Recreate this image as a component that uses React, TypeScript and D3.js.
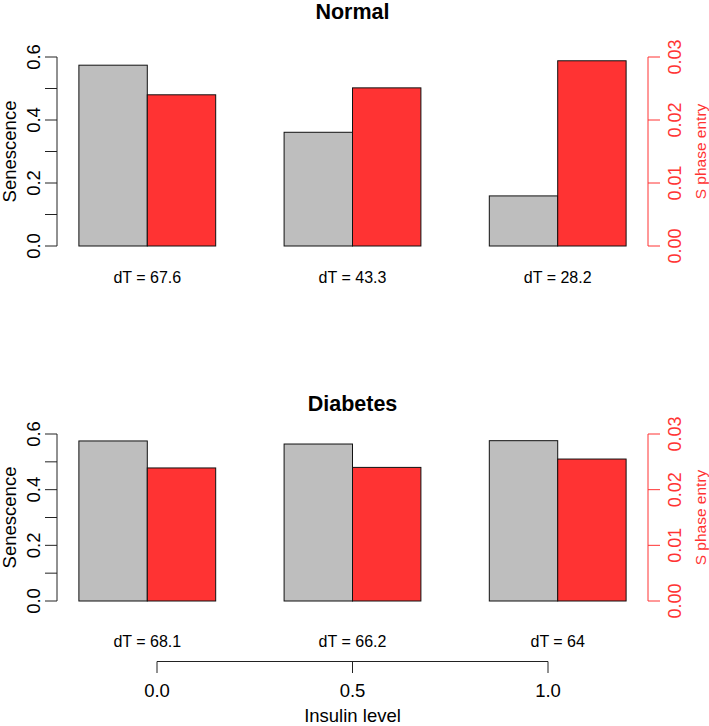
import React, { useEffect, useRef } from "react";
import * as d3 from "d3";

// insulin levels (one group of bars per level)
const insulinLevels = [0, 0.5, 1];

// Normal panel
const normalSenescence = [0.574, 0.361, 0.159];
const normalSPhase = [0.024, 0.0251, 0.0294];
const normalDT = ["67.6", "43.3", "28.2"];

// Diabetes panel
const diabetesSenescence = [0.575, 0.564, 0.576];
const diabetesSPhase = [0.0239, 0.024, 0.0255];
const diabetesDT = ["68.1", "66.2", "64"];

const senTicks = [0, 0.1, 0.2, 0.3, 0.4, 0.5, 0.6];
const senLabels = [0, 0.2, 0.4, 0.6];
const sTicks = [0, 0.01, 0.02, 0.03];

const RED = "#ff3333";
const GRAY = "#bebebe";
const FONT = "'Liberation Sans', Arial, Helvetica, sans-serif";

export default function App() {
  const ref = useRef<SVGSVGElement>(null);

  useEffect(() => {
    const width = 709;
    const height = 726;
    const svg = d3.select(ref.current);
    svg.selectAll("*").remove();
    svg.attr("width", width).attr("height", height);

    // barplot coordinates: bars of width 1, space 1 between groups
    const x = d3.scaleLinear().domain([0.68, 9.32]).range([57, 648]);

    const panels = [
      {
        title: "Normal",
        sen: normalSenescence,
        sph: normalSPhase,
        dt: normalDT,
        y0: 246,
        y1: 57,
        titleY: 18.5,
        dtY: 282.5,
      },
      {
        title: "Diabetes",
        sen: diabetesSenescence,
        sph: diabetesSPhase,
        dt: diabetesDT,
        y0: 601,
        y1: 434,
        titleY: 410.5,
        dtY: 647,
      },
    ];

    panels.forEach((p) => {
      const y = d3.scaleLinear().domain([0, 0.6]).range([p.y0, p.y1]);
      const yR = d3.scaleLinear().domain([0, 0.03]).range([p.y0, p.y1]);
      const g = svg.append("g");

      // title
      g.append("text")
        .attr("x", (x(0.68) + x(9.32)) / 2)
        .attr("y", p.titleY)
        .attr("text-anchor", "middle")
        .attr("font-family", FONT)
        .attr("font-weight", "bold")
        .attr("font-size", 21.5)
        .text(p.title);

      // bars
      const bars = insulinLevels.map((lvl, i) => ({
        i,
        left: 1 + 3 * i,
        sen: p.sen[i],
        sph: p.sph[i],
        dt: p.dt[i],
      }));

      g.selectAll(".gray")
        .data(bars)
        .enter()
        .append("rect")
        .attr("x", (d) => x(d.left))
        .attr("width", (d) => x(d.left + 1) - x(d.left))
        .attr("y", (d) => y(d.sen))
        .attr("height", (d) => y(0) - y(d.sen))
        .attr("fill", GRAY)
        .attr("stroke", "#111")
        .attr("stroke-width", 1);

      g.selectAll(".red")
        .data(bars)
        .enter()
        .append("rect")
        .attr("x", (d) => x(d.left + 1))
        .attr("width", (d) => x(d.left + 2) - x(d.left + 1))
        .attr("y", (d) => yR(d.sph))
        .attr("height", (d) => yR(0) - yR(d.sph))
        .attr("fill", RED)
        .attr("stroke", "#111")
        .attr("stroke-width", 1);

      // dT labels
      g.selectAll(".dt")
        .data(bars)
        .enter()
        .append("text")
        .attr("x", (d) => x(d.left + 1))
        .attr("y", p.dtY)
        .attr("text-anchor", "middle")
        .attr("font-family", FONT)
        .attr("font-size", 16)
        .text((d) => `dT = ${d.dt}`);

      // left axis
      const axL = x(0.68);
      g.append("line")
        .attr("x1", axL).attr("x2", axL)
        .attr("y1", y(0)).attr("y2", y(0.6))
        .attr("stroke", "#222");
      g.selectAll(".lt")
        .data(senTicks)
        .enter()
        .append("line")
        .attr("x1", axL - 12).attr("x2", axL)
        .attr("y1", (d) => y(d)).attr("y2", (d) => y(d))
        .attr("stroke", "#222");
      g.selectAll(".ll")
        .data(senLabels)
        .enter()
        .append("text")
        .attr("transform", (d) => `translate(${axL - 17},${y(d)}) rotate(-90)`)
        .attr("text-anchor", "middle")
        .attr("font-family", FONT)
        .attr("font-size", 18.5)
        .text((d) => d3.format(".1f")(d));
      g.append("text")
        .attr("transform", `translate(16,${(p.y0 + p.y1) / 2}) rotate(-90)`)
        .attr("text-anchor", "middle")
        .attr("font-family", FONT)
        .attr("font-size", 18.5)
        .text("Senescence");

      // right axis (red)
      const axR = x(9.32);
      g.append("line")
        .attr("x1", axR).attr("x2", axR)
        .attr("y1", yR(0)).attr("y2", yR(0.03))
        .attr("stroke", RED);
      g.selectAll(".rt")
        .data(sTicks)
        .enter()
        .append("line")
        .attr("x1", axR).attr("x2", axR + 12)
        .attr("y1", (d) => yR(d)).attr("y2", (d) => yR(d))
        .attr("stroke", RED);
      g.selectAll(".rl")
        .data(sTicks)
        .enter()
        .append("text")
        .attr("transform", (d) => `translate(${axR + 33},${yR(d)}) rotate(-90)`)
        .attr("text-anchor", "middle")
        .attr("font-family", FONT)
        .attr("font-size", 18)
        .attr("fill", RED)
        .text((d) => d3.format(".2f")(d));
      g.append("text")
        .attr("transform", `translate(706,${(p.y0 + p.y1) / 2}) rotate(-90)`)
        .attr("text-anchor", "middle")
        .attr("font-family", FONT)
        .attr("font-size", 15.5)
        .attr("fill", RED)
        .text("S phase entry");
    });

    // insulin level axis
    const xi = d3.scaleLinear().domain([0, 1]).range([157, 548]);
    const ax = svg.append("g");
    ax.append("line")
      .attr("x1", xi(0)).attr("x2", xi(1))
      .attr("y1", 661.5).attr("y2", 661.5)
      .attr("stroke", "#222");
    ax.selectAll(".bt")
      .data(insulinLevels)
      .enter()
      .append("line")
      .attr("x1", (d) => xi(d)).attr("x2", (d) => xi(d))
      .attr("y1", 661.5).attr("y2", 673)
      .attr("stroke", "#222");
    ax.selectAll(".bl")
      .data(insulinLevels)
      .enter()
      .append("text")
      .attr("x", (d) => xi(d))
      .attr("y", 696.5)
      .attr("text-anchor", "middle")
      .attr("font-family", FONT)
      .attr("font-size", 18.5)
      .text((d) => d3.format(".1f")(d));
    ax.append("text")
      .attr("x", xi(0.5))
      .attr("y", 721.5)
      .attr("text-anchor", "middle")
      .attr("font-family", FONT)
      .attr("font-size", 18.5)
      .text("Insulin level");
  }, []);

  return (
    <div style={{ position: "absolute", left: 0, top: 0, background: "#fff" }}>
      <svg ref={ref}></svg>
    </div>
  );
}
